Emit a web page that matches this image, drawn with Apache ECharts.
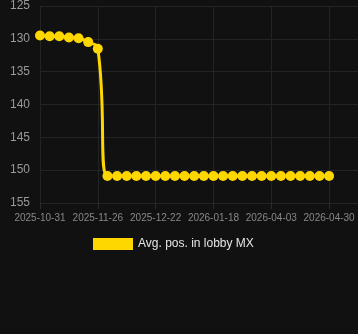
<!DOCTYPE html>
<html>
<head>
<meta charset="utf-8">
<script src="https://cdn.jsdelivr.net/npm/echarts@6/dist/echarts.min.js"></script>
<style>
html,body{margin:0;padding:0;background:#111111;}
#chart{width:358px;height:334px;}
</style>
</head>
<body>
<div id="chart"></div>
<script>
const categories = [
  '2025-10-31','2025-11-04','2025-11-09','2025-11-13','2025-11-17','2025-11-22',
  '2025-11-26','2025-11-30','2025-12-04','2025-12-09','2025-12-13','2025-12-18',
  '2025-12-22','2025-12-26','2025-12-31','2026-01-04','2026-01-09','2026-01-13',
  '2026-01-18','2026-01-30','2026-02-11','2026-02-24','2026-03-08','2026-03-21',
  '2026-04-03','2026-04-08','2026-04-12','2026-04-17','2026-04-21','2026-04-26',
  '2026-04-30'
];
const avgPos = [
  129.5, 129.6, 129.6, 129.8, 129.9, 130.5, 131.5,
  150.9, 150.9, 150.9, 150.9, 150.9, 150.9, 150.9, 150.9, 150.9, 150.9, 150.9,
  150.9, 150.9, 150.9, 150.9, 150.9, 150.9, 150.9, 150.9, 150.9, 150.9, 150.9,
  150.9, 150.9
];
const seriesName = 'Avg. pos. in lobby MX';

const chart = echarts.init(document.getElementById('chart'), null, {renderer: 'canvas'});
chart.setOption({
  backgroundColor: '#111111',
  animation: false,
  grid: {left: 40, right: 0, top: 6, bottom: 131, containLabel: false},
  legend: {
    data: [seriesName],
    top: 233,
    left: 88,
    itemWidth: 40,
    itemHeight: 12,
    itemGap: 6,
    icon: 'rect',
    textStyle: {color: '#e6e6e6', fontSize: 12, fontFamily: 'Liberation Sans, Arial, sans-serif'}
  },
  xAxis: {
    type: 'category',
    data: categories,
    boundaryGap: false,
    max: 33,
    axisLine: {show: false},
    axisTick: {show: true, interval: 5, length: 6, lineStyle: {color: '#2a2a2a'}},
    axisLabel: {interval: 5, color: '#888888', fontSize: 10, margin: 10, fontFamily: 'Liberation Sans, Arial, sans-serif'},
    splitLine: {show: true, interval: 5, lineStyle: {color: '#242424', width: 1}}
  },
  yAxis: {
    type: 'value',
    inverse: true,
    min: 125,
    max: 155,
    interval: 5,
    axisLine: {show: false},
    axisTick: {show: false},
    axisLabel: {color: '#999999', fontSize: 12, margin: 10, fontFamily: 'Liberation Sans, Arial, sans-serif'},
    splitLine: {show: true, lineStyle: {color: '#242424', width: 1}}
  },
  series: [{
    name: seriesName,
    type: 'line',
    data: avgPos,
    smooth: true,
    symbol: 'circle',
    symbolSize: 10,
    showSymbol: true,
    showAllSymbol: true,
    lineStyle: {color: '#FFD700', width: 3},
    itemStyle: {color: '#FFD700'}
  }]
});
</script>
</body>
</html>
